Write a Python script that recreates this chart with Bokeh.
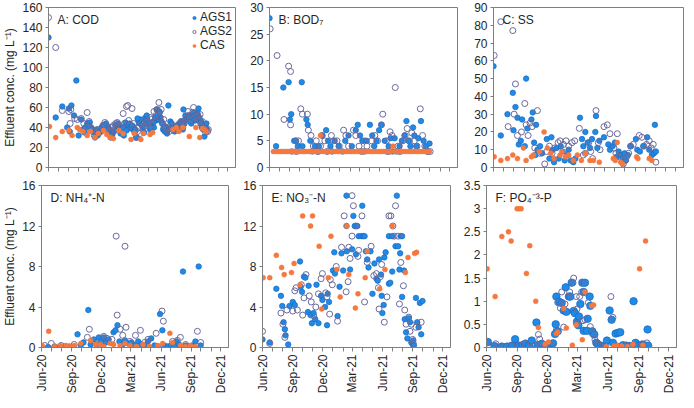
import math
import pandas as pd
from bokeh.plotting import figure
from bokeh.models import (Range1d, FixedTicker, Label, Legend, LegendItem,
                          NumeralTickFormatter)
from bokeh.layouts import column, row
from bokeh.embed import file_html
from bokeh.resources import INLINE

# ---------------- data ----------------
START_DATE = "2020-06-01"
LAST_TICK = "2021-12-01"
END_DATE = "2021-12-24"
X_LABELS = ["Jun-20", "Sep-20", "Dec-20", "Mar-21", "Jun-21", "Sep-21", "Dec-21"]
SERIES = ["AGS1", "AGS2", "CAS"]
TITLES = ["A: COD", "B: BOD\u2087", "C: SS", "D: NH\u2084\u207a-N", "E: NO\u2083\u207b-N", "F: PO\u2084\u207b\u00b3-P"]
Y_MAX = [160, 30, 90, 16, 16, 3.5]
Y_STEP = [20, 5, 10, 4, 4, 0.5]
Y_LABEL = "Effluent conc. (mg L\u207b\u00b9)"

# values are (days since START_DATE, concentration)
A_AGS1_DAY = [0, 22, 42, 57, 62, 65, 70, 78, 85, 92, 100, 105, 110, 118, 126, 130, 135, 142, 150, 158, 165, 172, 176, 180, 187, 190, 195, 200, 208, 215, 220, 225, 230, 235, 240, 245, 252, 258, 262, 268, 275, 282, 288, 292, 296, 300, 305, 310, 315, 318, 322, 328, 330, 335, 338, 342, 345, 350, 355, 358, 362, 366, 372, 380, 385, 390, 395, 400, 405, 410, 412, 415, 420, 425, 430, 436, 440, 444, 448, 452, 458, 462, 466, 470, 476, 482, 484,
              112, 122, 132, 138, 146, 154, 162, 168, 184, 192, 204, 212, 218, 228, 238, 248, 255, 265, 272, 278, 285, 298, 302, 308, 312, 320, 326, 333, 340, 348, 352, 360, 368, 376, 392, 398, 408, 418, 422, 428, 434, 438, 446, 450, 455, 460, 464, 468, 472, 479]
A_AGS1 = [130, 50, 61, 40, 59, 36, 62, 52, 87, 32, 48, 38, 35, 44, 45, 40, 37, 30, 32, 36, 38, 43, 44, 41, 35, 30, 33, 36, 38, 40, 34, 36, 32, 45, 40, 42, 39, 41, 36, 30, 46, 48, 40, 35, 50, 52, 43, 38, 42, 45, 40, 47, 58, 48, 56, 50, 46, 38, 36, 41, 34, 62, 46, 40, 36, 39, 42, 44, 46, 38, 58, 44, 50, 52, 48, 44, 52, 55, 47, 50, 59, 48, 46, 42, 31, 44, 38,
          40, 42, 38, 35, 38, 34, 40, 42, 38, 32, 42, 44, 38, 40, 37, 44, 42, 38, 49, 44, 42, 46, 48, 44, 40, 46, 50, 52, 55, 44, 40, 36, 38, 44, 42, 40, 44, 52, 48, 50, 46, 50, 52, 48, 54, 50, 44, 40, 38, 40]
A_AGS2_DAY = [0, 22, 42, 62, 66, 68, 80, 88, 112, 118, 124, 128, 140, 148, 160, 172, 182, 190, 198, 205, 210, 228, 238, 245, 255, 268, 280, 285, 290, 300, 310, 322, 337, 344, 352, 360, 368, 378, 390, 400, 410, 418, 426, 443, 450, 463, 470, 475, 480, 486, 488,
              100, 108, 134, 144, 152, 166, 176, 186, 194, 202, 216, 222, 232, 242, 250, 260, 272, 276, 296, 304, 314, 318, 328, 332, 340, 348, 356, 364, 372, 384, 396, 405, 414, 422, 430, 436, 440, 446, 456, 460, 466]
A_AGS2 = [150, 120, 57, 56, 44, 58, 49, 48, 36, 55, 46, 40, 32, 34, 36, 45, 40, 36, 42, 44, 45, 54, 61, 47, 59, 30, 34, 44, 40, 46, 50, 56, 65, 58, 48, 40, 36, 42, 38, 44, 40, 48, 56, 60, 52, 53, 46, 40, 35, 36, 38,
          49, 44, 38, 36, 38, 42, 38, 34, 40, 38, 42, 40, 44, 62, 42, 44, 36, 40, 42, 44, 48, 44, 52, 58, 50, 44, 40, 38, 40, 38, 42, 46, 44, 50, 52, 48, 55, 50, 52, 48, 44]
A_CAS_DAY = [3, 22, 42, 62, 72, 88, 95, 105, 118, 128, 142, 152, 168, 178, 188, 198, 215, 228, 252, 262, 282, 290, 310, 318, 380, 390, 398, 410, 430, 450, 462, 470, 476, 482]
A_CAS = [41, 30, 36, 37, 32, 40, 38, 36, 32, 36, 30, 34, 37, 33, 30, 29, 37, 34, 28, 34, 28, 34, 33, 35, 38, 40, 36, 40, 31, 40, 30, 39, 38, 36]

B_AGS1_DAY = [0, 20, 42, 58, 62, 66, 68, 75, 80, 86, 98, 100, 112, 116, 124, 130, 138, 145, 150, 160, 172, 178, 185, 190, 198, 210, 222, 230, 240, 250, 262, 268, 275, 282, 288, 295, 305, 312, 318, 325, 333, 340, 350, 356, 362, 368, 374, 380, 386, 395, 402, 410, 416, 422, 428, 436, 440, 446, 452, 460, 468, 475, 480, 486]
B_AGS1 = [28, 4, 15, 16, 9, 10, 3, 5, 5, 4, 16, 4, 9, 8, 5, 3, 4, 3, 4, 6, 7, 5, 4, 3, 5, 4, 3, 5, 6, 4, 7, 8, 6, 5, 3, 5, 8, 6, 4, 5, 7, 8, 5, 3, 4, 5.5, 3, 5.5, 3, 4, 5, 6, 8.7, 5, 4, 7.5, 6, 4, 5.5, 8.7, 5, 4, 3, 4.5]
B_AGS2_DAY = [2, 23, 44, 58, 64, 64, 80, 88, 82, 95, 100, 115, 118, 126, 133, 142, 148, 155, 160, 168, 175, 188, 195, 205, 212, 225, 232, 240, 255, 262, 272, 280, 288, 296, 310, 320, 328, 340, 344, 355, 362, 366, 372, 382, 390, 396, 405, 412, 418, 425, 432, 440, 448, 458, 465, 472, 480, 488]
B_AGS2 = [26, 21, 9, 19, 18, 8, 5, 5, 3, 11, 10, 10, 7, 6, 4, 5, 3, 4, 6, 5, 3, 6, 5, 5, 4, 7, 6, 4, 7, 6, 4, 3, 5, 4, 5, 6, 5, 8, 10, 5, 3, 6.7, 6, 15, 4, 3, 5, 6, 7.3, 5, 6.5, 5, 4, 11, 6, 4, 3, 3]
B_CAS_DAY = [12, 20, 28, 35, 42, 50, 56, 62, 70, 76, 82, 90, 98, 104, 110, 118, 124, 132, 140, 148, 155, 162, 170, 178, 186, 194, 202, 210, 218, 226, 234, 242, 250, 258, 266, 274, 282, 290, 298, 306, 314, 322, 330, 338, 346, 354, 362, 368, 375, 382, 390, 398, 406, 414, 422, 430, 438, 446, 454, 462, 470, 478, 486]
B_CAS = [3, 3, 3, 3, 3, 3, 3, 3, 3, 3, 3, 3, 3, 3, 3, 3, 3, 3, 3, 3, 6, 3, 3, 3, 3, 3, 3, 3, 3, 3, 3, 3, 3, 3, 3, 3, 3, 3, 3, 3, 3, 3, 3, 3, 3, 3, 3, 3, 4, 3, 3, 3, 3, 3, 3, 3, 3, 3, 3, 3, 3, 3, 3]

C_AGS1_DAY = [0, 22, 42, 58, 60, 66, 72, 76, 82, 86, 94, 98, 102, 114, 118, 122, 126, 128, 132, 140, 146, 160, 168, 174, 178, 182, 190, 196, 202, 208, 214, 222, 226, 232, 240, 246, 260, 266, 270, 276, 283, 290, 296, 306, 308, 312, 318, 332, 345, 350, 358, 365, 370, 376, 382, 388, 394, 398, 404, 412, 428, 432, 440, 450, 462, 468, 476, 482, 485, 488]
C_AGS1 = [57, 18, 30, 42, 21, 34, 28, 13, 15, 27, 12, 50, 22, 27, 31, 14, 7, 24, 10, 12, 8, 16, 5, 17, 10, 3, 11, 5, 12, 9, 4, 7, 10, 4, 3, 5, 28, 16, 12, 20, 14, 11, 16, 20, 29, 11, 15, 17, 13, 10, 12, 14, 6, 9, 7, 5, 8, 4, 7, 12, 16, 10, 9, 12, 17, 10, 7, 8, 24, 9]
C_AGS2_DAY = [2, 22, 44, 58, 62, 66, 72, 84, 94, 98, 104, 110, 116, 124, 132, 140, 154, 160, 168, 176, 184, 194, 200, 210, 218, 226, 236, 244, 258, 270, 276, 286, 292, 298, 308, 315, 320, 332, 342, 350, 362, 368, 372, 378, 390, 396, 400, 406, 412, 420, 438, 446, 452, 460, 468, 474, 480, 488]
C_AGS2 = [63, 82, 23, 77, 30, 47, 18, 20, 36, 24, 18, 25, 23, 11, 32, 8, 2, 9, 12, 8, 11, 14, 15, 13, 15, 12, 14, 15, 22, 7, 8, 14, 9, 5, 32, 14, 10, 23, 24, 19, 11, 8, 19, 6, 2, 4, 6, 8, 12, 13, 18, 17, 12, 13, 15, 11, 13, 3]
C_CAS_DAY = [2, 22, 42, 58, 72, 90, 98, 114, 120, 138, 152, 162, 172, 182, 200, 206, 216, 226, 240, 252, 264, 276, 290, 300, 318, 360, 366, 372, 382, 388, 430, 434, 468, 476]
C_CAS = [6, 4, 5, 7, 5, 11, 4, 6, 7, 9, 20, 11, 8, 5, 7, 9, 6, 7, 4, 7, 4, 8, 4, 4, 3, 5, 4, 14, 3, 2, 6, 5, 5, 4]

D_AGS1_DAY = [0, 20, 40, 55, 70, 85, 110, 120, 128, 143, 150, 160, 168, 175, 182, 190, 196, 205, 220, 226, 232, 238, 248, 255, 265, 275, 285, 295, 305, 315, 325, 335, 345, 355, 362, 369, 375, 385, 395, 405, 412, 420, 432, 440, 450, 460, 470, 480, 486]
D_AGS1 = [0.1, 0.05, 0.1, 0.05, 0.1, 0.1, 1.3, 0.2, 0.5, 3.7, 0.3, 0.8, 0.3, 1.0, 0.6, 1.0, 0.5, 0.8, 1.5, 1.7, 2.2, 0.6, 0.3, 0.7, 0.4, 0.5, 0.2, 0.6, 0.3, 0.2, 0.6, 0.9, 0.2, 0.1, 3.3, 1.7, 0.2, 0.1, 0.2, 0.1, 0.6, 0.3, 7.5, 0.2, 0.1, 0.2, 0.6, 8.0, 0.2]
D_AGS2_DAY = [10, 30, 60, 100, 140, 146, 165, 190, 200, 215, 228, 231, 240, 248, 255, 258, 270, 287, 302, 315, 325, 350, 368, 372, 400, 415, 424, 440, 476, 486]
D_AGS2 = [0.2, 0.4, 0.2, 0.3, 1.0, 1.8, 0.5, 1.1, 0.9, 0.8, 11, 3.2, 1.8, 1.2, 10, 2.0, 0.6, 1.2, 1.7, 0.5, 0.8, 1.4, 3.6, 2.6, 0.6, 0.7, 1.0, 0.3, 1.6, 0.5]
D_CAS_DAY = [2, 22, 40, 58, 75, 88, 100, 120, 150, 165, 180, 190, 210, 220, 240, 255, 270, 290, 310, 330, 355, 370, 392, 400, 425, 440, 455, 470]
D_CAS = [0.2, 1.6, 0.1, 0.2, 0.2, 0.1, 0.2, 0.4, 0.7, 0.3, 0.3, 0.1, 0.4, 0.3, 0.2, 0.4, 0.2, 0.1, 0.3, 0.1, 0.2, 0.4, 1.4, 0.5, 0.2, 0.1, 0.2, 0.1]

E_AGS1_DAY = [0, 22, 42, 56, 60, 64, 68, 70, 78, 82, 92, 98, 114, 116, 120, 126, 130, 138, 140, 146, 150, 155, 160, 164, 170, 178, 182, 190, 196, 198, 202, 214, 218, 220, 228, 234, 240, 245, 255, 255, 256, 266, 272, 276, 280, 284, 288, 292, 300, 303, 306, 310, 314, 318, 322, 328, 334, 340, 346, 350, 354, 360, 362, 364, 368, 370, 374, 384, 384, 388, 394, 394, 404, 408, 412, 416, 418, 420, 424, 424, 430, 432, 436, 440, 444, 448, 452, 456, 458, 460, 466, 470, 474, 478, 482, 486]
E_AGS1 = [0.8, 0.5, 5.8, 5.1, 4.1, 2.5, 1.8, 1.2, 0.3, 4.1, 4.5, 4.2, 8.5, 6.0, 5.5, 7.0, 6.9, 3.5, 6.1, 3.2, 2.4, 3.4, 2.8, 6.2, 2.4, 5.1, 4.7, 4.0, 2.2, 5.3, 4.5, 7.6, 9.4, 7.3, 3.1, 6.0, 9.3, 7.6, 12, 15, 9.5, 7.7, 9.7, 13, 12, 9.2, 12, 11, 11, 14, 11, 11, 9.5, 8.7, 7.9, 9.5, 5.3, 8.3, 6.8, 6.6, 8.7, 7.2, 5.1, 3.4, 4.2, 8.9, 9.4, 6.3, 11, 6.4, 7.5, 11, 10, 15, 10, 7.7, 9.3, 11, 11, 5.0, 7.6, 2.8, 1.5, 0.9, 2.9, 2.5, 0.5, 0.3, 0.7, 0.2, 4.9, 2.5, 2.0, 4.4, 1.3, 4.6]
E_AGS2_DAY = [0, 22, 56, 62, 68, 74, 92, 98, 102, 106, 118, 122, 126, 132, 142, 148, 156, 162, 170, 178, 182, 192, 196, 204, 206, 212, 224, 228, 240, 248, 254, 260, 262, 266, 272, 272, 276, 284, 290, 292, 302, 310, 318, 330, 338, 346, 352, 354, 358, 362, 370, 378, 384, 390, 396, 400, 404, 412, 416, 420, 428, 432, 436, 444, 448, 452, 456, 458, 466, 482]
E_AGS2 = [1.6, 0.4, 3.4, 2.3, 1.0, 3.7, 3.6, 5.6, 5.9, 3.7, 6.2, 3.2, 4.9, 7.2, 5.1, 4.5, 3.1, 4.0, 5.3, 6.8, 7.3, 5.4, 5.0, 3.3, 6.7, 6.2, 8.0, 2.6, 9.9, 13, 5.5, 6.5, 9.9, 8.8, 15, 11, 14, 12, 9.0, 9.6, 13, 4.5, 8.4, 10.0, 7.1, 7.3, 5.9, 3.8, 7.0, 8.2, 2.5, 5.0, 13, 13, 12, 11, 14, 11, 4.3, 8.4, 6.1, 3.7, 2.3, 3.0, 1.6, 2.3, 0.8, 0.4, 2.0, 2.5]
E_CAS_DAY = [2, 22, 42, 58, 66, 88, 96, 114, 122, 146, 152, 172, 180, 200, 208, 226, 236, 256, 262, 282, 290, 312, 318, 356, 372, 394, 434, 442, 462, 468]
E_CAS = [6.9, 6.9, 9.1, 7.9, 7.2, 7.4, 8.3, 6.2, 13, 12, 13, 10, 3.8, 6.9, 11, 7.7, 5.0, 12, 7.2, 3.9, 5.3, 6.9, 9.5, 5.8, 7.7, 12, 7.4, 8.9, 9.3, 9.4]

F_AGS1_DAY = [4, 24, 46, 62, 76, 86, 96, 108, 116, 128, 136, 150, 154, 166, 178, 188, 200, 206, 208, 210, 214, 218, 226, 232, 238, 240, 248, 252, 256, 262, 266, 272, 276, 278, 282, 288, 292, 292, 296, 302, 304, 310, 312, 318, 324, 330, 336, 344, 350, 356, 362, 370, 376, 380, 388, 396, 402, 410, 420, 430, 436, 440, 442, 448, 456, 466, 474, 484, 486]
F_AGS1 = [0.12, 0.03, 0.02, 0.02, 0.04, 0.18, 0.04, 0.05, 0.08, 0.04, 0.15, 0.54, 0.05, 0.08, 0.04, 0.06, 0.09, 0.29, 0.5, 1.1, 0.35, 0.99, 0.96, 0.8, 1.3, 0.77, 1.1, 1.1, 1.4, 0.79, 0.74, 0.56, 0.48, 0.67, 0.94, 1.4, 1.2, 0.36, 1.4, 0.36, 0.62, 1.1, 0.9, 0.35, 0.28, 0.1, 0.05, 0.04, 0.02, 0.03, 0.15, 0.8, 0.6, 0.1, 0.3, 0.32, 0.33, 0.05, 0.04, 0.03, 0.02, 0.03, 1.0, 0.1, 0.03, 0.06, 0.05, 0.39, 0.04]
F_AGS2_DAY = [4, 28, 50, 76, 100, 118, 140, 148, 156, 160, 176, 196, 210, 214, 222, 226, 232, 236, 246, 250, 260, 262, 270, 270, 272, 280, 286, 290, 290, 296, 306, 312, 318, 326, 334, 340, 352, 374, 380, 390, 404, 420, 436, 450, 470, 482]
F_AGS2 = [0.1, 0.08, 0.02, 0.04, 0.05, 0.1, 0.03, 0.06, 0.28, 0.18, 0.04, 0.05, 0.38, 0.97, 0.85, 1.2, 0.44, 0.94, 1.1, 1.2, 1.4, 1.5, 1.1, 0.52, 0.83, 1.1, 1.2, 0.58, 1.4, 0.6, 0.97, 0.45, 0.3, 0.17, 0.1, 0.06, 0.03, 1.1, 0.65, 0.04, 0.03, 0.05, 0.02, 0.02, 0.08, 0.1]
F_CAS_DAY = [2, 26, 46, 66, 74, 92, 98, 104, 120, 130, 148, 156, 176, 186, 210, 214, 232, 240, 258, 270, 288, 296, 316, 322, 360, 384, 392, 406, 424, 440, 460, 470, 478]
F_CAS = [1.7, 1.1, 2.4, 2.5, 2.3, 3.0, 3.0, 3.0, 1.6, 2.2, 1.0, 0.43, 0.07, 0.12, 0.3, 0.33, 0.84, 0.42, 0.05, 0.49, 0.17, 1.2, 0.9, 0.92, 0.02, 0.03, 0.03, 0.03, 0.02, 0.07, 1.7, 0.05, 2.3]

PANELS = [
    ((A_AGS1_DAY, A_AGS1), (A_AGS2_DAY, A_AGS2), (A_CAS_DAY, A_CAS)),
    ((B_AGS1_DAY, B_AGS1), (B_AGS2_DAY, B_AGS2), (B_CAS_DAY, B_CAS)),
    ((C_AGS1_DAY, C_AGS1), (C_AGS2_DAY, C_AGS2), (C_CAS_DAY, C_CAS)),
    ((D_AGS1_DAY, D_AGS1), (D_AGS2_DAY, D_AGS2), (D_CAS_DAY, D_CAS)),
    ((E_AGS1_DAY, E_AGS1), (E_AGS2_DAY, E_AGS2), (E_CAS_DAY, E_CAS)),
    ((F_AGS1_DAY, F_AGS1), (F_AGS2_DAY, F_AGS2), (F_CAS_DAY, F_CAS)),
]

# ---------------- styling ----------------
FONT = "Liberation Sans"
TXT = "#262626"
AX = "#7f7f7f"
BLUE = "#1f8be6"
BLUE_EDGE = "#1769c2"
PURPLE = "#6a6a9c"
ORANGE = "#f4783f"

start = pd.Timestamp(START_DATE)
months = pd.date_range(START_DATE, LAST_TICK, freq="MS")
MONTH_TICKS = [float((m - start).days) for m in months]
MONTH_NAMES = [m.strftime("%b-%y") for m in months]
X_END = float((pd.Timestamp(END_DATE) - start).days)

FRAME_W = [187, 188, 190]
BORDER_L = [41, 32, 34]
FRAME_H = [160, 162]
BORDER_T = [7, 7]
BORDER_B = [11, 45]


def make_panel(i):
    r, c = divmod(i, 3)
    p = figure(frame_width=FRAME_W[c], frame_height=FRAME_H[r],
               min_border_left=BORDER_L[c], min_border_right=2,
               min_border_top=BORDER_T[r], min_border_bottom=BORDER_B[r],
               x_range=Range1d(0, X_END), y_range=Range1d(0, Y_MAX[i]),
               output_backend="svg", toolbar_location=None,
               background_fill_color="white", border_fill_color="white")
    p.grid.visible = False
    p.outline_line_color = AX
    p.outline_line_width = 1

    # x axis
    xa = p.xaxis[0]
    xa.ticker = FixedTicker(ticks=MONTH_TICKS, minor_ticks=[])
    if r == 1:
        xa.major_label_overrides = {t: (n if n in X_LABELS else "") for t, n in zip(MONTH_TICKS, MONTH_NAMES)}
        xa.major_label_orientation = math.pi / 2
        xa.major_label_standoff = 3
        xa.major_label_text_font_size = "12px"
    else:
        xa.major_label_overrides = {t: "" for t in MONTH_TICKS}
        xa.major_label_text_font_size = "0px"
        xa.major_label_standoff = 0
    xa.major_tick_out = 4
    xa.major_tick_in = 0
    xa.axis_line_color = AX
    xa.major_tick_line_color = AX

    # y axis
    ya = p.yaxis[0]
    nt = int(round(Y_MAX[i] / Y_STEP[i]))
    ya.ticker = FixedTicker(ticks=[k * Y_STEP[i] for k in range(nt + 1)], minor_ticks=[])
    ya.formatter = NumeralTickFormatter(format="0.[0]")
    ya.major_tick_out = 3
    ya.major_tick_in = 0
    ya.major_label_standoff = 3
    ya.major_label_text_font_size = "12px"
    ya.axis_line_color = AX
    ya.major_tick_line_color = AX
    if c == 0:
        ya.axis_label = Y_LABEL
        ya.axis_label_standoff = 2
        ya.axis_label_text_font_size = "12px"
        ya.axis_label_text_font_style = "normal"
        ya.axis_label_text_font = FONT
        ya.axis_label_text_color = TXT
    for ax in (xa, ya):
        ax.major_label_text_font = FONT
        ax.major_label_text_color = TXT

    (d1, v1), (d2, v2), (d3, v3) = PANELS[i]
    s1 = 7.5 if i == 5 else 5.5
    r1 = p.scatter(d1, v1, size=s1, marker="circle", fill_color=BLUE,
                   line_color=BLUE_EDGE, line_width=0.7)
    r2 = p.scatter(d2, v2, size=6, marker="circle", fill_color=None,
                   line_color=PURPLE, line_width=1)
    r3 = p.scatter(d3, v3, size=5, marker="circle", fill_color=ORANGE,
                   line_color=ORANGE, line_width=0.5)

    p.add_layout(Label(x=0, y=Y_MAX[i], x_offset=9, y_offset=-5,
                       text=TITLES[i], text_baseline="top", text_align="left",
                       text_font=FONT, text_font_size="12px", text_color=TXT))

    if i == 0:
        leg = Legend(items=[LegendItem(label=SERIES[0], renderers=[r1]),
                            LegendItem(label=SERIES[1], renderers=[r2]),
                            LegendItem(label=SERIES[2], renderers=[r3])],
                     location="top_right", border_line_alpha=0,
                     background_fill_alpha=0, label_text_font=FONT,
                     label_text_font_size="12px", label_text_color=TXT,
                     glyph_width=8, glyph_height=11, label_height=11,
                     spacing=0, padding=1, margin=2, label_standoff=2)
        p.add_layout(leg)
    return p


figs = [make_panel(i) for i in range(6)]
layout = column(row(*figs[:3], spacing=0), row(*figs[3:], spacing=0), spacing=0)

open("out.html", "w").write(file_html(layout, INLINE))
